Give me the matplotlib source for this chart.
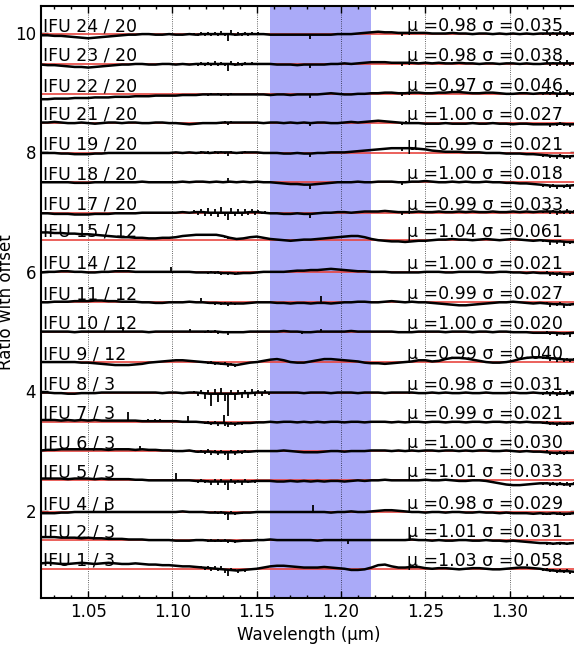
import numpy as np
import matplotlib
matplotlib.use("Agg")
import matplotlib.pyplot as plt
from matplotlib.ticker import MultipleLocator

# spectra, bottom to top
labels = ["IFU 1 / 3", "IFU 2 / 3", "IFU 4 / 3", "IFU 5 / 3", "IFU 6 / 3",
          "IFU 7 / 3", "IFU 8 / 3", "IFU 9 / 12", "IFU 10 / 12", "IFU 11 / 12",
          "IFU 14 / 12", "IFU 15 / 12", "IFU 17 / 20", "IFU 18 / 20",
          "IFU 19 / 20", "IFU 21 / 20", "IFU 22 / 20", "IFU 23 / 20",
          "IFU 24 / 20"]
mu = [1.03, 1.01, 0.98, 1.01, 1.00, 0.99, 0.98, 0.99, 1.00, 0.99,
      1.00, 1.04, 0.99, 1.00, 0.99, 1.00, 0.97, 0.98, 0.98]
sigma = [0.058, 0.031, 0.029, 0.033, 0.030, 0.021, 0.031, 0.040, 0.020, 0.027,
         0.021, 0.061, 0.033, 0.018, 0.021, 0.027, 0.046, 0.038, 0.035]

# slow continuum of ratio - mu, units of 0.01, 80 samples over 1.022-1.338 um
cont = [
    [9, 10, 9, 8, 8, 9, 10, 9, 8, 9, 10, 9, 8, 8, 9, 8, 7, 7, 6, 6, 5, 4, 4, 3,
     2, 1, 0, -1, -2, -3, -2, -1, 0, 2,
     4, 5, 5, 4, 3, 2, 2, 2, 3, 2, 1, 0, -2, -2, -1, 2,
     6, 7, 4, 2, 2, 3, 3, 1, 0, 1, 1, 0, -1, 0, 1, 1, 0, -1, -1, 0, 1, 2, 2, 1, 0,
     -2, -3, -4, -4, -5],
    [5, 5, 5, 4, 4, 4, 3, 4, 3, 3, 2, 2, 2, 1, 1, 1, 0, 0, 0, 0, -1, -1, -1, 0,
     0, -1, -1, -1, -1, -2, -1, -1, 0, 0,
     1, 0, 0, 0, 0, 0, 0, -1, 0, 0, 0, 0, 0, 0, 0, 0,
     0, 0, 0, 0, 0, 1, 0, 0, -1, 0, -1, -1, 0, 0, -1, -1, 0, -1, -1, -2, -1, -2, -3, -4, -5,
     -5, -6, -5, -6, -5],
    [-2, -2, -2, -1, -1, 0, 0, 0, 0, 0, 0, 0, 0, 0, 0, 0, 0, 0, 0, 0, 0, 1, 0, 0,
     0, -1, -1, -1, -2, -2, -1, -1, 0, 0,
     0, 0, 0, 0, 0, 0, 0, 0, 0, -1, 0, 0, 1, 0, 0, 1,
     2, 3, 3, 2, 1, 0, 0, -1, 0, 0, -1, 0, 0, -1, -1, 0, -1, -1, -2, -1, -2, -2, -2, -3, -2,
     -3, -2, -3, -3, -2],
    [3, 3, 3, 3, 2, 3, 3, 3, 2, 3, 2, 2, 2, 2, 1, 1, 0, 0, 0, 0, 0, 0, 0, -1,
     -1, -2, -2, -2, -2, -2, -2, -2, -1, -1,
     -1, -2, -2, -1, -2, -1, -2, -1, -2, -1, -1, -2, -1, 0, -1, 0,
     0, 1, 0, 0, 0, 0, 0, 1, 0, 0, 1, 0, -1, -1, 0, 0, -1, -3, -5, -7, -8, -8, -7, -6, -5,
     -5, -6, -6, -7, -6],
    [1, 2, 2, 3, 3, 3, 3, 3, 3, 3, 2, 3, 3, 3, 2, 3, 2, 2, 1, 1, 0, 0, 1, -1,
     -1, -1, -2, -2, -2, -2, -1, -1, 0, 0,
     0, 0, 1, 0, -1, -2, -2, -2, -1, 0, 0, -1, 0, 0, 0, 1,
     1, 1, 0, 1, 0, 1, 0, 1, 1, 0, 1, 1, 0, 1, 0, 1, 1, 0, 0, 1, 0, -1, 0, -1, -1,
     -2, -3, -3, -3, -3],
    [3, 3, 3, 2, 3, 2, 3, 2, 3, 2, 2, 2, 2, 2, 2, 1, 1, 1, 1, 1, 1, 0, 0, 0,
     -1, -2, -2, -2, -3, -3, -2, -2, -1, -1,
     0, -1, 0, 0, -1, 0, -1, 0, -1, 0, 0, -1, 0, 0, -1, 0,
     0, 0, -1, 0, -1, 0, 0, -1, 0, 0, -1, 0, 0, -1, 0, 0, -1, 0, 0, -1, 0, -1, 0, -1, -1,
     -2, -3, -3, -3, -2],
    [0, 0, -1, -1, -2, -2, -1, -1, -1, 0, 0, 0, 0, 0, 0, 0, 0, 0, -1, 0, 0, -1, 0, 0,
     -1, -2, -2, -2, -2, -2, -1, -1, 0, 0,
     0, 0, 0, 0, 0, -1, 0, 0, 0, -1, 0, 0, 0, -1, 0, 0,
     0, -1, 0, 0, 0, 0, -1, -1, 0, -1, 0, -1, -1, 0, -1, -1, 0, -1, -1, -1, 0, -1, -1, 0, -1,
     -1, -1, -2, -1, -1],
    [0, 0, 0, 0, 0, 0, -1, -1, -2, -3, -4, -5, -5, -5, -4, -3, -1, 0, 1, 2, 3, 3, 2, 1,
     0, -1, -2, -3, -4, -5, -3, -1, 0, 2,
     4, 5, 3, 0, -1, -1, 1, 3, 5, 5, 4, 3, 2, 1, -1, -2,
     -2, -3, -2, -1, 0, 1, 3, 3, 1, 2, 5, 7, 7, 6, 4, 2, 0, -1, -1, 0, 2, 5, 7, 8, 8,
     7, 6, 5, 4, 4],
    [0, 0, 0, 0, 0, -1, 0, 0, 0, 0, 0, 0, 0, 0, 0, 0, -1, 0, 0, 0, 0, 0, 0, 0,
     0, 0, 0, -1, -1, -1, -1, 0, 0, 0,
     0, 0, 1, 0, 0, -1, -1, 0, 0, 0, 0, 0, 1, 0, 0, 0,
     0, 0, 0, -1, -1, -1, 0, 0, 0, 0, -1, 0, 0, 0, -1, 0, 0, -1, 0, 0, -1, -1, -1, -2, -2,
     -2, -2, -3, -3, -2],
    [0, 0, 1, 1, 1, 2, 2, 2, 3, 3, 2, 2, 1, 1, 1, 0, 0, -1, -1, 0, 0, 0, 1, 0,
     0, -1, -1, -2, -2, -2, -2, -1, 0, 0,
     0, -1, -1, -2, -1, -1, -2, -1, -1, -2, -1, 0, 0, 1, 1, 0,
     0, 1, 2, 1, 0, 1, 0, 0, -1, -2, -3, -4, -5, -5, -4, -3, -2, -1, 0, 0, 1, 0, -1, -2, -1,
     -2, -3, -3, -4, -3],
    [-1, 0, 0, 1, 1, 0, 0, -1, -1, 0, 0, 1, 1, 1, 0, 0, 0, 0, 0, 0, 0, 0, 0, -1,
     -1, -1, -1, -2, -2, -3, -2, -2, -1, 0,
     0, 0, 0, 1, 2, 2, 3, 3, 4, 5, 4, 3, 2, 1, 1, 0,
     0, 0, -1, -1, -1, -1, -1, 0, 0, 0, -1, -1, 0, 0, 0, 0, -1, -1, 0, 0, -1, -1, -2, -1, -2,
     -2, -3, -3, -4, -3],
    [12, 12, 11, 11, 10, 10, 9, 9, 8, 7, 6, 5, 4, 4, 3, 3, 2, 2, 3, 3, 4, 6, 7, 8,
     8, 8, 8, 6, 3, 1, 2, 4, 5, 3,
     1, 0, -1, -2, -1, 0, 0, 1, 2, 3, 4, 5, 6, 6, 4, 1,
     -1, -2, -3, -3, -4, -3, -2, -2, -1, 0, 0, 1, 0, 0, -1, 0, 1, 0, -1, 0, 1, 0, -1, -2, -1,
     -2, -3, -3, -4, -4],
    [-1, -1, -2, -2, -2, -3, -3, -3, -2, -2, -2, -1, -1, -1, -1, 0, 0, 0, 0, 0, 0, 1, 0, 1,
     1, 0, 0, 0, 0, 0, 0, 1, 1, 0,
     -1, -1, -2, -2, -1, -2, -2, -1, 0, 0, 1, 1, 0, 1, 2, 2,
     2, 3, 2, 1, 1, 1, 2, 1, 1, 2, 1, 1, 2, 1, 2, 1, 1, 2, 1, 1, 2, 1, 2, 1, 2,
     2, 2, 1, 2, 1],
    [0, 0, 0, 0, 0, -1, -1, -1, 0, 0, 0, 0, 0, 0, 0, 1, 0, 0, 0, 0, 0, 1, 0, 1,
     1, 0, 1, 0, 1, 0, 1, 0, 1, 0,
     0, -1, -2, -3, -3, -4, -4, -3, -2, -1, 0, 0, 0, 1, 0, 0,
     1, 1, 1, 0, 0, 1, 1, 2, 1, 0, 0, 1, 0, 1, 0, 0, 1, 0, 0, -1, -1, -2, -2, -3, -4,
     -5, -6, -6, -6, -5],
    [0, 0, 0, -1, -1, -2, -2, -2, -1, -1, 0, 0, 0, 0, 0, 0, 0, 0, 0, 0, 1, 0, 1, 0,
     1, 0, 1, 1, 1, 0, 1, 1, 1, 0,
     0, 0, -1, -1, 0, -1, -1, 0, 0, 1, 1, 1, 2, 3, 4, 5,
     6, 7, 8, 8, 8, 8, 7, 6, 4, 3, 2, 2, 2, 1, 1, 1, 0, 0, 0, -1, -1, -1, -2, -2, -3,
     -4, -5, -5, -6, -5],
    [0, 0, 1, 0, -1, -1, 0, -1, -2, -1, 0, 0, -1, 0, 0, -1, -1, 0, 0, -1, -1, -2, -3, -2,
     -1, -1, -1, 0, 0, 0, 0, 0, 0, -1,
     0, 0, -1, 0, -1, 0, -1, 0, 0, -1, -1, 0, 1, 0, 1, 2,
     3, 2, 1, 0, -1, -1, -1, -2, -2, -2, -1, -2, -2, -2, -1, -2, -2, -1, -2, -2, -3, -2, -2, -3, -3,
     -3, -3, -2, -3, -3],
    [-8, -8, -7, -7, -7, -6, -6, -6, -5, -5, -5, -4, -4, -4, -3, -3, -3, -2, -2, -2, -2, -1, -1, -1,
     0, 0, 0, 0, 0, 0, 0, 0, 0, 0,
     -1, 0, 0, -1, 0, 0, 0, 0, 1, 2, 1, 0, 0, 1, 1, 2,
     2, 3, 3, 2, 2, 3, 3, 2, 2, 3, 3, 4, 4, 3, 2, 2, 3, 3, 2, 1, 1, 2, 2, 1, 2,
     2, 2, 1, 2, 1],
    [-1, -2, -2, -3, -4, -5, -5, -6, -5, -4, -3, -2, -1, -1, 0, 0, -1, -1, 0, 0, -1, 0, -1, 0,
     0, 0, 0, 0, 0, -1, 0, 0, 0, 0,
     0, -1, -1, -1, -2, -1, -1, -1, -1, 0, 0, 1, 0, 1, 2, 3,
     3, 3, 2, 2, 2, 2, 1, 2, 1, 2, 1, 1, 2, 1, 1, 0, 1, 1, 0, 1, 1, 0, 1, 0, 0,
     1, 1, 1, 1, 1],
    [-2, -2, -3, -3, -4, -5, -6, -7, -6, -5, -4, -3, -2, -1, -1, 0, 0, -1, -1, 0, -1, -1, 0, -1,
     0, 0, 0, 0, 0, -1, 0, 0, 0, 0,
     -1, -1, -1, -1, -1, -1, -1, -1, -1, -1, 0, 0, 0, 1, 2, 3,
     4, 3, 3, 2, 2, 2, 2, 2, 1, 1, 1, 2, 1, 1, 0, 1, 1, 0, 1, 0, 1, 0, 1, 0, 1,
     1, 1, 1, 1, 1],
]

# telluric residual spikes, 23 samples over 1.113-1.157 um (units of 0.01)
burst = [
    [0, 0, 3, -4, 3, -5, 4, -4, 5, -6, -10, 4, 3, -4, 2, -3, 0, 2, -2, 0, 0, 0, 0],
    [0, 0, 0, 2, -2, 2, -3, 2, -2, 3, -4, 2, -3, 2, -2, 0, 0, 0, 0, 0, 0, 0, 0],
    [0, 0, 0, 0, 0, 0, 2, -3, 2, -4, -12, 3, -3, 2, -2, 1, 0, 0, 0, 0, 0, 0, 0],
    [2, -3, 3, -4, 3, -5, 4, -6, 4, -5, -15, 5, -4, 3, -5, 4, -3, 3, -3, 2, -2, 2, 0],
    [2, -3, 3, -4, 4, -5, 3, -5, 4, -4, -13, 3, -4, 3, -3, 2, -2, 0, 0, 0, 0, 0, 0],
    [0, 0, 2, -3, 3, -4, 3, -5, 2, -4, -6, 3, -4, 2, -3, 2, -2, 0, 0, 0, 0, 0, 0],
    [3, -6, 5, -10, 6, -20, 8, -14, 9, -12, -37, 7, -10, 6, -8, 5, -9, 6, -5, 4, -6, 5, -4],
    [0, 0, 0, 2, -2, 3, -3, 2, -3, 3, -5, 2, -3, 2, -2, 0, 0, 0, 0, 0, 0, 0, 0],
    [0, 0, 1, -2, 2, -2, 2, -3, 1, -2, -5, 2, -2, 1, -1, 0, 0, 0, 0, 0, 0, 0, 0],
    [0, 0, 0, 1, -2, 2, -3, 2, -2, 3, -5, 2, -2, 1, -1, 0, 0, 0, 0, 0, 0, 0, 0],
    [0, 0, 0, 1, -2, 2, -2, 2, -3, 2, -4, 2, -3, 2, -2, 1, 0, 0, 0, 0, 0, 0, 0],
    [0, 0, 1, -2, 2, -2, 1, -2, 2, -2, -3, 2, -1, 1, 0, 0, 0, 0, 0, 0, 0, 0, 0],
    [3, -5, 6, -7, 8, -6, 7, -8, 9, -6, -13, 8, -6, 7, -5, 6, -5, 5, -4, 4, -3, 3, -2],
    [0, 0, 1, -1, 2, -1, 1, -2, 2, -1, 6, -2, 1, -1, 1, 0, 0, 0, 0, 0, 0, 0, 0],
    [1, -2, 2, -2, 3, -2, 2, -3, 3, -2, -6, 3, -2, 2, -2, 2, -1, 1, 0, 0, 0, 0, 0],
    [0, 1, -1, 2, -2, 1, -2, 2, -2, 2, -4, 2, -1, 1, -1, 0, 0, 0, 0, 0, 0, 0, 0],
    [0, 1, -1, 1, -2, 2, -1, 2, -2, 1, -3, 2, -1, 1, -1, 0, 0, 0, 0, 0, 0, 0, 0],
    [2, -3, 3, -4, 4, -3, 5, -4, 4, -3, -11, 6, -3, 4, -3, 3, -2, 3, -2, 2, 0, 0, 0],
    [2, -3, 4, -3, 4, -4, 3, -3, 5, -4, -12, 7, -3, 4, -3, 3, -4, 3, -2, 3, -2, 0, 0],
]

# noise at the red end, 10 samples over 1.320-1.338 um (units of 0.01)
edge = [
    [-2, 3, -3, 2, -4, 3, -3, 4, -4, 2],
    [2, -3, 3, -2, 3, -4, 2, -3, 3, -2],
    [-2, 2, -3, 2, -2, 3, -3, 2, -2, 2],
    [-3, 3, -4, 3, -4, 4, -3, 4, -4, 3],
    [-2, 3, -4, 2, -3, 3, -4, 3, -2, 3],
    [-2, 3, -3, 2, -4, 3, -3, 2, -3, 2],
    [-3, 4, -4, 3, -5, 4, -3, 5, -4, 3],
    [-3, 4, -4, 3, -5, 4, -4, 3, -4, 3],
    [-2, 3, -4, 2, -5, 3, -3, 2, -6, 2],
    [-2, 3, -5, 2, -4, 3, -6, 2, -3, 2],
    [-2, 3, -5, 2, -4, 2, -6, 2, -3, 2],
    [-3, 2, -6, 2, -5, 3, -7, 2, -4, 2],
    [-3, 4, -4, 3, -5, 4, -3, 5, -4, 3],
    [-3, 2, -4, 3, -5, 2, -4, 3, -5, 2],
    [-3, 3, -4, 2, -5, 3, -4, 3, -5, 2],
    [-2, 3, -4, 2, -4, 3, -3, 2, -4, 2],
    [-3, 4, -3, 3, -5, 4, -3, 5, -4, 3],
    [-3, 4, -4, 3, -5, 4, -4, 5, -4, 3],
    [-3, 4, -5, 3, -5, 4, -4, 5, -5, 3],
]

# isolated spikes: (wavelength um, height in units of 0.01)
spikes = [
    [(1.241, 4)],
    [(1.204, -6), (1.241, 7)],
    [(1.0607, 17), (1.1835, 12)],
    [(1.102, 12)],
    [(1.081, 6)],
    [(1.0737, 15), (1.0856, 4), (1.0897, 3), (1.0927, 4), (1.1093, 10), (1.1307, 14)],
    [],
    [],
    [(1.0708, 8), (1.1105, 5), (1.177, -4), (1.188, 4)],
    [(1.117, 7), (1.188, 12)],
    [(1.099, 8)],
    [],
    [(1.1815, -7), (1.236, -5)],
    [(1.1815, -7), (1.236, -4)],
    [(1.1815, -6), (1.236, -4)],
    [(1.1815, -5), (1.236, -4), (1.2385, 4)],
    [(1.1815, -6), (1.236, -4)],
    [(1.1815, -6), (1.236, -5)],
    [(1.1815, -7), (1.236, -5)],
]

step = 0.5
band = (1.158, 1.218)

plt.rcParams["font.family"] = "DejaVu Sans"
plt.rcParams["xtick.direction"] = "in"
plt.rcParams["ytick.direction"] = "in"
plt.rcParams["xtick.top"] = True
plt.rcParams["ytick.right"] = True

fig = plt.figure(figsize=(5.74, 6.47), dpi=100)
ax = fig.add_axes([0.0714, 0.0757, 0.934, 0.915])

ax.axvspan(band[0], band[1], color="#aaaaf8", zorder=0, lw=0)

for i in range(len(labels)):
    base = mu[i] + i * step
    wav = np.linspace(1.022, 1.338, len(cont[i]))
    flux = base + np.array(cont[i]) * 0.01
    ax.axhline(base, color="#e8453f", lw=1.2, zorder=2)
    ax.plot(wav, flux, color="k", lw=1.8, zorder=3)

    # spikes start from the continuum at their wavelength
    bw = np.linspace(1.113, 1.157, len(burst[i]))
    ew = np.linspace(1.320, 1.338, len(edge[i]))
    sw = np.array([s[0] for s in spikes[i]])
    sh = np.array([s[1] for s in spikes[i]])
    for xs, hs in [(bw, np.array(burst[i])), (ew, np.array(edge[i])), (sw, sh)]:
        if len(xs) == 0:
            continue
        y0 = np.interp(xs, wav, flux)
        ax.vlines(xs, y0, y0 + hs * 0.01, color="k", lw=1.3, zorder=3)

    ax.text(1.0233, base + 0.05, labels[i], fontsize=12.5, ha="left",
            va="baseline", zorder=4)
    ax.text(1.3318, base + 0.05, "μ =%.2f σ =%.3f" % (mu[i], sigma[i]),
            fontsize=12.5, ha="right", va="baseline", zorder=4)

ax.set_xlim(1.022, 1.34)
ax.set_ylim(0.54, 10.45)
ax.xaxis.set_major_locator(MultipleLocator(0.05))
ax.xaxis.set_minor_locator(MultipleLocator(0.01))
ax.set_yticks([2, 4, 6, 8, 10])
ax.xaxis.set_major_formatter(plt.FormatStrFormatter("%.2f"))
ax.tick_params(which="major", length=5, width=1, labelsize=12)
ax.tick_params(which="minor", length=2.5, width=1)
ax.grid(axis="x", which="major", color="k", ls=":", lw=0.6, alpha=0.8, zorder=1)
for sp in ax.spines.values():
    sp.set_linewidth(1.5)

ax.set_xlabel("Wavelength (μm)", fontsize=12)
ax.set_ylabel("Ratio with offset", fontsize=12)
ax.yaxis.set_label_coords(-0.048, 0.5)

fig.savefig("out.png", dpi=100)
